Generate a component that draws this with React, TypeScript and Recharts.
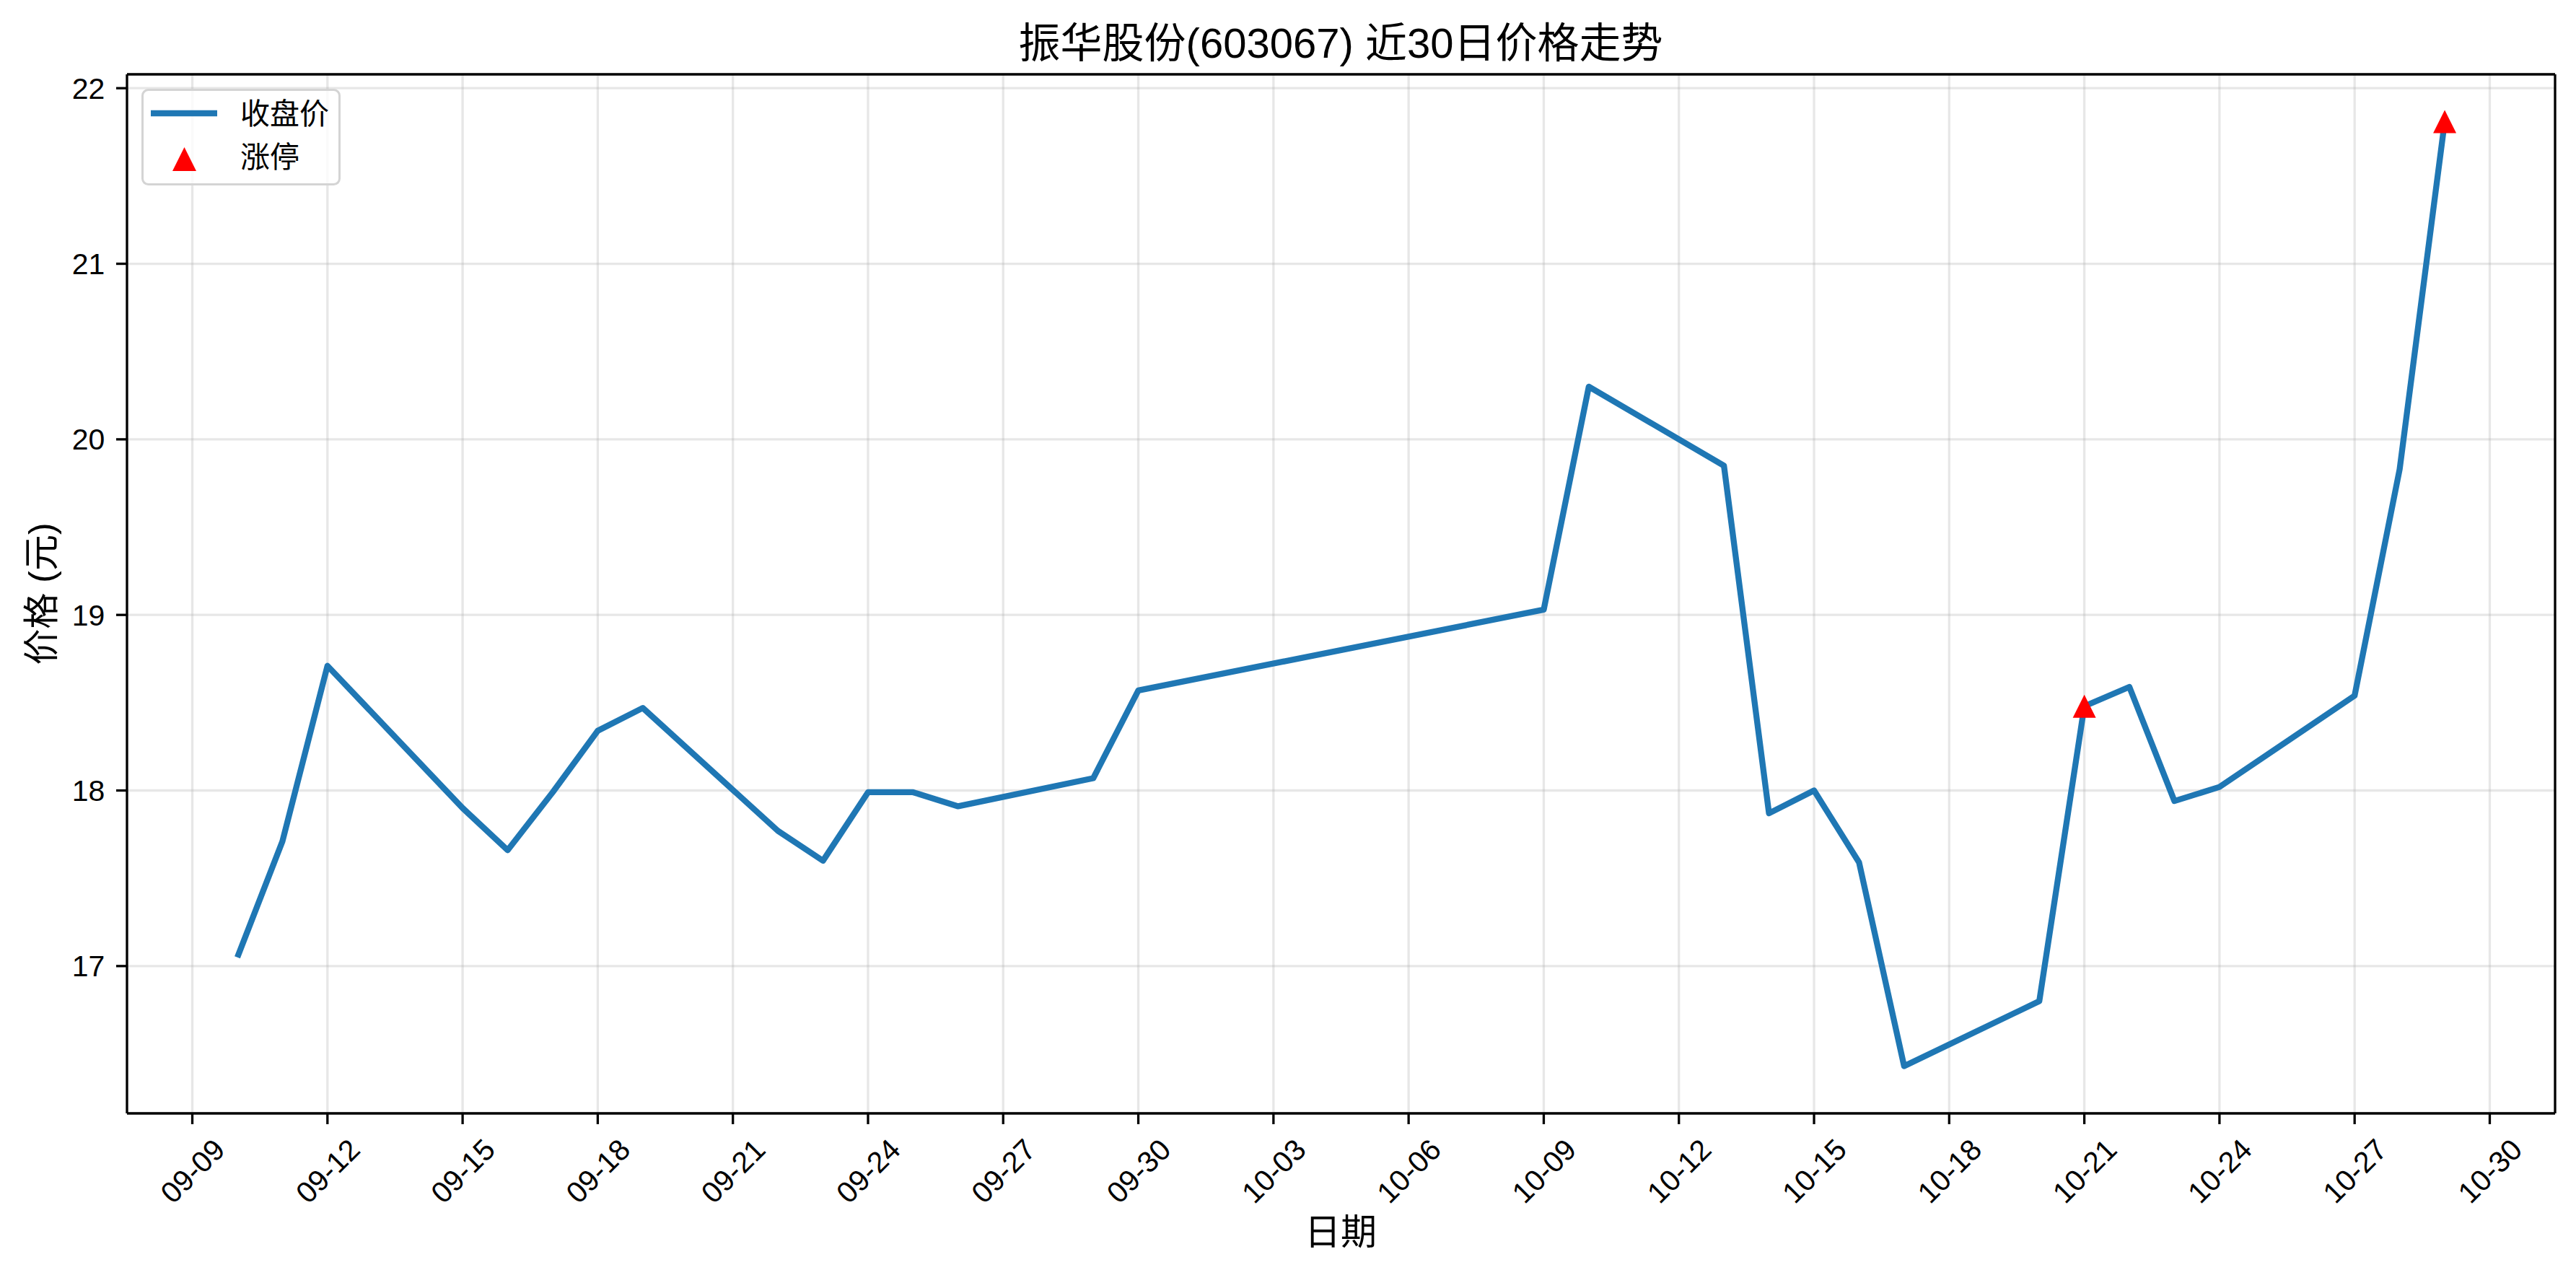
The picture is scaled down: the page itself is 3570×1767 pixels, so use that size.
import React from 'react'
import {
  ComposedChart, Line, Scatter, XAxis, YAxis, CartesianGrid, Legend, ReferenceLine,
} from 'recharts'

const dates = [
  '2025-09-10', '2025-09-11', '2025-09-12', '2025-09-15', '2025-09-16', '2025-09-17',
  '2025-09-18', '2025-09-19', '2025-09-22', '2025-09-23', '2025-09-24', '2025-09-25',
  '2025-09-26', '2025-09-29', '2025-09-30', '2025-10-09', '2025-10-10', '2025-10-13',
  '2025-10-14', '2025-10-15', '2025-10-16', '2025-10-17', '2025-10-20', '2025-10-21',
  '2025-10-22', '2025-10-23', '2025-10-24', '2025-10-27', '2025-10-28', '2025-10-29',
]
const closes = [
  17.05, 17.71, 18.71, 17.90, 17.66, 17.99,
  18.34, 18.47, 17.77, 17.60, 17.99, 17.99,
  17.91, 18.07, 18.57, 19.03, 20.30, 19.85,
  17.87, 18.00, 17.59, 16.43, 16.80, 18.48,
  18.59, 17.94, 18.02, 18.54, 19.83, 21.81,
]
const limitUpDates = ['2025-10-21', '2025-10-29']
const xTickLabels = [
  '09-09', '09-12', '09-15', '09-18', '09-21', '09-24', '09-27', '09-30',
  '10-03', '10-06', '10-09', '10-12', '10-15', '10-18', '10-21', '10-24', '10-27', '10-30',
]
const yTicks = [17, 18, 19, 20, 21, 22]

const FONT = "'Liberation Sans', Arial, 'Noto Sans CJK SC', sans-serif"
const BLUE = '#1f77b4'

const toDay = (d: string) => Date.parse(d) / 86400000

const rows = dates.map((d, i) => ({ day: toDay(d), close: closes[i] }))
const limitRows = rows.filter((r, i) => limitUpDates.includes(dates[i]))
const xTicks = xTickLabels.map((l) => toDay('2025-' + l))

// matplotlib style 5% padding
const xMin = rows[0].day, xMax = rows[rows.length - 1].day
const xPad = (xMax - xMin) * 0.05
const yMin = Math.min(...closes), yMax = Math.max(...closes)
const yPad = (yMax - yMin) * 0.05
const xDomain = [xMin - xPad, xMax + xPad]
const yDomain = [yMin - yPad, yMax + yPad]

function DateTick({ x, y, payload }: any) {
  const cy = y + 64.5
  const label = xTickLabels[xTicks.indexOf(payload.value)]
  return (
    <text x={x} y={cy} dy="0.36em" textAnchor="middle" transform={`rotate(-45, ${x}, ${cy})`}
      fontSize={41} fontFamily={FONT} fill="#000">
      {label}
    </text>
  )
}

function Triangle({ cx, cy }: any) {
  const h = 16
  return <path d={`M${cx},${cy - h}L${cx + h},${cy + h}L${cx - h},${cy + h}Z`} fill="#ff0000" />
}

function LegendBox() {
  return (
    <svg width={276} height={134} style={{ display: 'block' }}>
      <rect x={1.5} y={1.5} width={273} height={131} rx={8} fill="#fff" fillOpacity={0.8}
        stroke="#d4d4d4" strokeWidth={3} />
      <line x1={13} x2={105} y1={34} y2={34} stroke={BLUE} strokeWidth={8.3} />
      <text x={137} y={49} fontSize={41} fontFamily={FONT} fill="#000">收盘价</text>
      <path d="M59.5,81 L76,114 L43,114 Z" fill="#ff0000" />
      <text x={137} y={109} fontSize={41} fontFamily={FONT} fill="#000">涨停</text>
    </svg>
  )
}

export default function App() {
  const spine = { stroke: '#000', strokeWidth: 3.3 }
  return (
    <div style={{ position: 'absolute', left: 0, top: 0, width: 3570, height: 1767, background: '#fff' }}>
      <ComposedChart width={3570} height={1767} data={rows}
        margin={{ top: 103, right: 29, bottom: 0, left: 0 }}>
        <CartesianGrid stroke="#b0b0b0" strokeOpacity={0.3} strokeWidth={3.3} />
        <XAxis dataKey="day" type="number" domain={xDomain} ticks={xTicks}
          allowDataOverflow height={224} tickSize={15} tickMargin={0} interval={0}
          axisLine={spine} tickLine={spine} tick={<DateTick />} />
        <YAxis type="number" domain={yDomain} ticks={yTicks} allowDataOverflow
          width={176} tickSize={15} tickMargin={15.6} interval={0}
          axisLine={spine} tickLine={spine}
          tick={{ fontSize: 41, fontFamily: FONT, fill: '#000' }} />
        {/* top and right spines */}
        <ReferenceLine y={yDomain[1]} stroke="#000" strokeWidth={3.3} ifOverflow="visible" />
        <ReferenceLine x={xDomain[1]} stroke="#000" strokeWidth={3.3} ifOverflow="visible" />
        <Legend layout="horizontal" verticalAlign="middle" align="center"
          wrapperStyle={{ left: 196, top: 123, width: 276, height: 134 }}
          content={() => <LegendBox />} />
        <Line dataKey="close" name="收盘价" stroke={BLUE} strokeWidth={8.3} dot={false}
          strokeLinejoin="round" isAnimationActive={false} />
        <Scatter data={limitRows} dataKey="close" name="涨停" fill="#ff0000" shape={<Triangle />}
          isAnimationActive={false} />
      </ComposedChart>
      <svg width={3570} height={1767} style={{ position: 'absolute', left: 0, top: 0, pointerEvents: 'none' }}>
        <text x={1858} y={80} textAnchor="middle" fontSize={58} fontFamily={FONT} fill="#000">
          振华股份(603067) 近30日价格走势
        </text>
        <text x={1858} y={1725} textAnchor="middle" fontSize={50} fontFamily={FONT} fill="#000">日期</text>
        <text x={75} y={823} textAnchor="middle" fontSize={50} fontFamily={FONT} fill="#000"
          transform="rotate(-90, 75, 823)">价格 (元)</text>
      </svg>
    </div>
  )
}
